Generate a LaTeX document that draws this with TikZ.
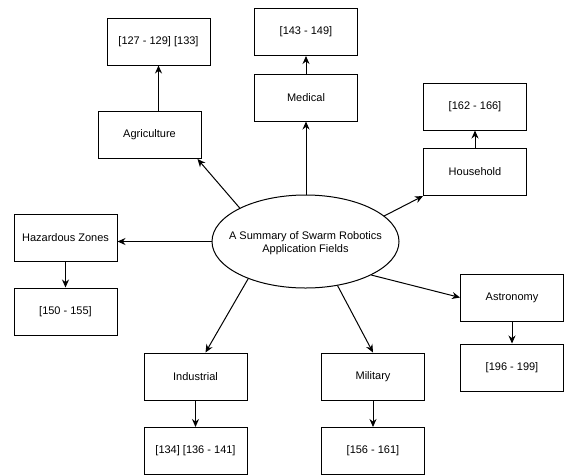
\documentclass[tikz,border=0pt]{standalone}
\usepackage{fontspec}
\setmainfont{Liberation Sans}
\usetikzlibrary{shapes.geometric,arrows.meta}
\begin{document}
\begin{tikzpicture}[x=1pt,y=-1pt,
  box/.style={draw, line width=1pt, minimum width=103pt, minimum height=47pt, inner sep=0pt, font=\fontsize{11}{13}\selectfont},
  link/.style={draw, line width=1pt, -{Stealth[length=8pt,width=7pt]}}]
\useasboundingbox (0,0) rectangle (564,475);
% central ellipse
\node[draw, ellipse, line width=1pt, minimum width=187pt, minimum height=93pt, inner sep=0pt] (ell) at (305.5,241.5) {};
\node[align=center, font=\fontsize{11}{13}\selectfont, inner sep=0pt] (elltext) at (305.5,243) {A Summary of Swarm Robotics\\Application Fields};
% fields
\node[box] (agri) at (149.5,135) {Agriculture};
\node[box] (ragri) at (158.5,41.5) {[127 - 129] [133]};
\node[box] (med) at (306,97.5) {Medical};
\node[box] (rmed) at (306,32) {[143 - 149]};
\node[box] (house) at (475,172) {Household};
\node[box] (rhouse) at (475,106.5) {[162 - 166]};
\node[box] (haz) at (65.5,237.5) {Hazardous Zones};
\node[box] (rhaz) at (65.5,311.5) {[150 - 155]};
\node[box] (ind) at (195.5,376.5) {Industrial};
\node[box] (rind) at (195.5,451) {[134] [136 - 141]};
\node[box] (mil) at (373,376.5) {Military};
\node[box] (rmil) at (373,451) {[156 - 161]};
\node[box] (astro) at (512,297.5) {Astronomy};
\node[box] (rastro) at (512,367.5) {[196 - 199]};
% connectors from the ellipse
\draw[link] (ell.153) -- ([xshift=-4pt]agri.south east);
\draw[link] (ell.north -| med.south) -- (med.south);
\draw[link] (ell.18) -- (house.south west);
\draw[link] (ell.west) -- (ell.west -| haz.east);
\draw[link] (ell.213) -- ([xshift=10pt]ind.north);
\draw[link] (ell.306) -- (mil.north);
\draw[link] (ell.333) -- (astro.west);
% connectors to references
\draw[link] (agri.north -| ragri.south) -- (ragri.south);
\draw[link] (med.north) -- (rmed.south);
\draw[link] (house.north) -- (rhouse.south);
\draw[link] (haz.south) -- (rhaz.north);
\draw[link] (ind.south) -- (rind.north);
\draw[link] (mil.south) -- (rmil.north);
\draw[link] (astro.south) -- (rastro.north);
\end{tikzpicture}
\end{document}
